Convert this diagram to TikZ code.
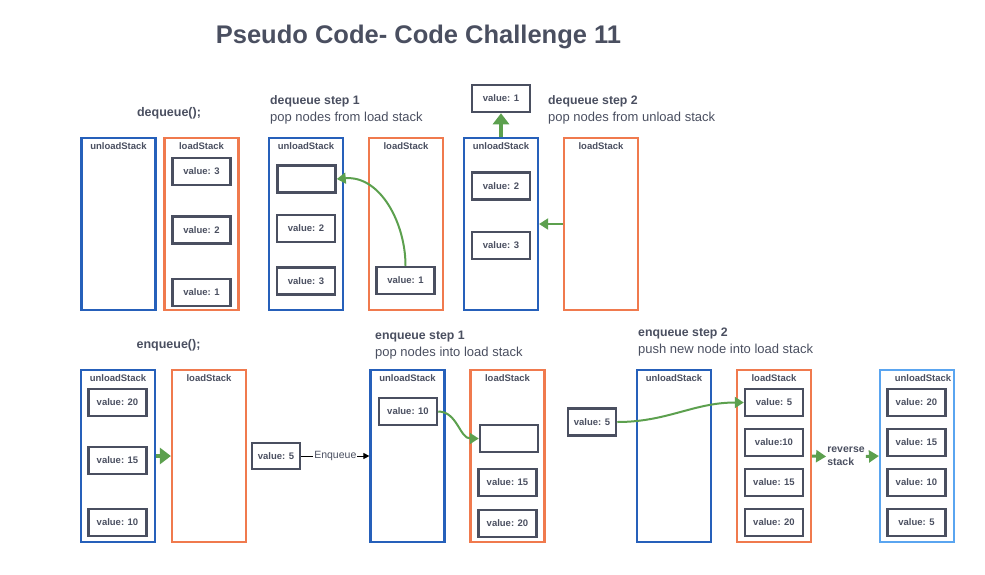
\documentclass[tikz,border=0pt]{standalone}
\usepackage{fontspec}
\setmainfont{Liberation Sans}
\usetikzlibrary{arrows.meta,positioning}
\definecolor{ink}{RGB}{74,79,96}
\definecolor{stackblue}{RGB}{38,96,186}
\definecolor{stacklight}{RGB}{90,165,240}
\definecolor{stackorange}{RGB}{240,122,78}
\definecolor{popgreen}{RGB}{92,160,78}

\begin{document}
\begin{tikzpicture}[x=1pt,y=-1pt,node distance=40pt]
\tikzstyle{stackbox}=[draw,line width=2.2pt,minimum width=74pt,minimum height=172pt,inner sep=0pt]
\tikzstyle{stacklbl}=[anchor=center,yshift=-9pt,text=ink,font=\bfseries\fontsize{9.5}{11}\selectfont]
\tikzstyle{ustack}=[stackbox,draw=stackblue,label={[stacklbl]north:unloadStack}]
\tikzstyle{lstack}=[stackbox,draw=stackorange,label={[stacklbl]north:loadStack}]
\tikzstyle{rstack}=[stackbox,draw=stacklight,label={[stacklbl,xshift=6pt]north:unloadStack}]
\tikzstyle{valbox}=[draw=ink,line width=2.5pt,text=ink,minimum width=58pt,minimum height=27pt,inner sep=0pt,font=\bfseries\fontsize{9.5}{11}\selectfont]
\tikzstyle{heading}=[text=ink,font=\bfseries\fontsize{12.5}{15}\selectfont]
\tikzstyle{steptext}=[text=ink,anchor=west,align=left,inner sep=0pt,font=\fontsize{13}{17}\selectfont]
\tikzstyle{greenarrow}=[draw=popgreen,line width=2pt,-{Triangle[length=9pt,width=11pt]}]
\tikzstyle{fatarrow}=[draw=popgreen,line width=4.5pt,-{Triangle[length=11pt,width=16pt]}]
\tikzstyle{midarrow}=[draw=popgreen,line width=3pt,-{Triangle[length=10pt,width=12pt]}]
\tikzstyle{blackarrow}=[draw=black,line width=1pt,-{Triangle[length=6pt,width=6pt]}]
\useasboundingbox (0,0) rectangle (985,574);

\node[text=ink,font=\bfseries\fontsize{25.5}{30}\selectfont] (ttl) at (418.5,37) {Pseudo Code- Code Challenge 11};

% dequeue();
\node[heading] (deq) at (169,113) {dequeue();};
\node[ustack] (du0) at (118.5,224) {};
\node[lstack] (dl0) at (201.5,224) {};
\node[valbox] (dl0a) at (201.5,171.5) {value: 3};
\node[valbox] (dl0b) at (201.5,230) {value: 2};
\node[valbox] (dl0c) at (201.5,292.5) {value: 1};

% dequeue step 1
\node[steptext] (deq1) at (270,109.5) {{\bfseries\fontsize{12.3}{17}\selectfont dequeue step 1}\\pop nodes from load stack};
\node[ustack] (du1) at (306,224) {};
\node[lstack] (dl1) at (406,224) {};
\node[valbox] (du1a) at (306.5,179) {};
\node[valbox] (du1b) at (306,228.5) {value: 2};
\node[valbox] (du1c) at (306,281) {value: 3};
\node[valbox] (dl1a) at (405.5,280.5) {value: 1};

% dequeue step 2
\node[steptext] (deq2) at (548,109.5) {{\bfseries\fontsize{12.3}{17}\selectfont dequeue step 2}\\pop nodes from unload stack};
\node[ustack] (du2) at (501,224) {};
\node[lstack] (dl2) at (601,224) {};
\node[valbox] (out1) at (501,98.5) {value: 1};
\node[valbox] (du2a) at (501,186) {value: 2};
\node[valbox] (du2b) at (501,245.5) {value: 3};

% enqueue();
\node[heading] (enq) at (168.5,345) {enqueue();};
\node[ustack] (eu0) at (118,456) {};
\node[lstack] (el0) at (209,456) {};
\node[valbox] (eu0a) at (117.5,402.5) {value: 20};
\node[valbox] (eu0b) at (117.5,460.5) {value: 15};
\node[valbox] (eu0c) at (117.5,522.5) {value: 10};
\node[valbox,minimum width=48pt,minimum height=26pt] (new1) at (276,456) {value: 5};

% enqueue step 1
\node[steptext] (enq1) at (375,345) {{\bfseries\fontsize{12.3}{17}\selectfont enqueue step 1}\\pop nodes into load stack};
\node[ustack] (eu1) at (407.5,456) {};
\node[lstack] (el1) at (507.5,456) {};
\node[valbox] (eu1a) at (408,411.5) {value: 10};
\node[valbox] (el1a) at (509,438.5) {};
\node[valbox] (el1b) at (507.5,482.5) {value: 15};
\node[valbox] (el1c) at (507.5,523.5) {value: 20};

% enqueue step 2
\node[steptext] (enq2) at (638,342) {{\bfseries\fontsize{12.3}{17}\selectfont enqueue step 2}\\push new node into load stack};
\node[valbox,minimum width=48pt] (new2) at (592,422) {value: 5};
\node[ustack] (eu2) at (674,456) {};
\node[lstack] (el2) at (774,456) {};
\node[valbox] (el2a) at (774,402.5) {value: 5};
\node[valbox,below of=el2a] (el2b) {value:10};
\node[valbox,below of=el2b] (el2c) {value: 15};
\node[valbox,below of=el2c] (el2d) {value: 20};
\node[text=ink,align=left,inner sep=1pt,font=\bfseries\fontsize{10.5}{13}\selectfont] (rev) at (846,456.5) {reverse\\stack};
\node[rstack] (eu3) at (917,456) {};
\node[valbox] (eu3a) at (916.5,402.5) {value: 20};
\node[valbox,below of=eu3a] (eu3b) {value: 15};
\node[valbox,below of=eu3b] (eu3c) {value: 10};
\node[valbox,below of=eu3c] (eu3d) {value: 5};

\draw[greenarrow] (dl1a.north) to[out=90,in=5] (du1a.east);
\draw[greenarrow] (dl2.west) -- (du2.east);
\draw[greenarrow] (eu1a.east) to[out=0,in=180] (el1a.west);
\draw[greenarrow] (new2.east) to[out=0,in=180] (el2a.west);
\draw[fatarrow] (du2.north) -- (out1.south);
\draw[fatarrow] (eu0.east) -- (el0.west);
\draw[midarrow] (el2.east) -- (rev.west);
\draw[midarrow] (rev.east) -- (eu3.west);
\draw[blackarrow] (new1) -- node[fill=white,inner sep=1pt,text=ink,font=\fontsize{10.5}{12}\selectfont] {Enqueue} (eu1);
\end{tikzpicture}
\end{document}
